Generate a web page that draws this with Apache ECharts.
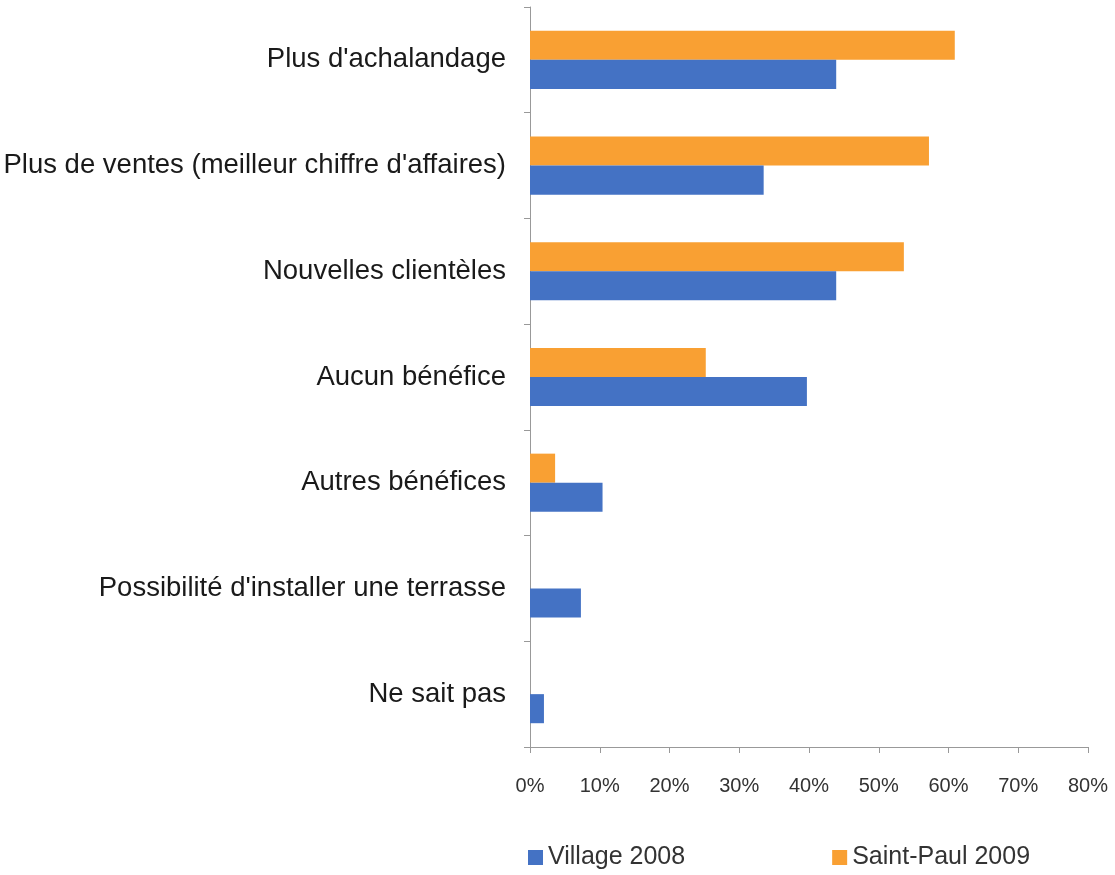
<!DOCTYPE html>
<html>
<head>
<meta charset="utf-8">
<script src="https://cdn.jsdelivr.net/npm/echarts@6/dist/echarts.min.js"></script>
<style>
  html, body { margin: 0; padding: 0; background: #fff; }
  #myChart { width: 1115px; height: 875px; }
</style>
</head>
<body>
<div id="myChart"></div>
<script>
  // categories, top to bottom
  let categories = [
    "Plus d'achalandage",
    "Plus de ventes (meilleur chiffre d'affaires)",
    "Nouvelles clientèles",
    "Aucun bénéfice",
    "Autres bénéfices",
    "Possibilité d'installer une terrasse",
    "Ne sait pas"
  ];
  // values in %
  let village2008 = [43.9, 33.5, 43.9, 39.7, 10.4, 7.3, 2.0];
  let saintPaul2009 = [60.9, 57.2, 53.6, 25.2, 3.6, 0, 0];
  let xTicks = [0, 80, 10]; // min, max, interval

  let myChart = echarts.init(document.getElementById('myChart'));
  let font = 'Liberation Sans, Arial, sans-serif';

  let option = {
    animation: false,
    textStyle: { fontFamily: font },
    legend: {
      left: 528,
      top: 845,
      padding: 0,
      itemWidth: 15,
      itemHeight: 15,
      itemGap: 147,
      icon: 'rect',
      textStyle: { fontSize: 25, color: '#333', fontFamily: font },
      data: ['Village 2008', 'Saint-Paul 2009']
    },
    grid: {
      left: 530,
      right: 27,
      top: 7,
      bottom: 128
    },
    xAxis: {
      type: 'value',
      min: xTicks[0],
      max: xTicks[1],
      interval: xTicks[2],
      axisLine: { show: true, lineStyle: { color: '#999', width: 1 } },
      axisTick: { show: true, length: 6, lineStyle: { color: '#999' } },
      splitLine: { show: false },
      axisLabel: {
        formatter: '{value}%',
        fontSize: 20,
        color: '#333',
        margin: 29,
        fontFamily: font
      }
    },
    yAxis: {
      type: 'category',
      inverse: true,
      data: categories,
      axisLine: { show: true, lineStyle: { color: '#999', width: 1 } },
      axisTick: { show: true, length: 6, interval: 0, lineStyle: { color: '#999' } },
      axisLabel: {
        fontSize: 27.5,
        color: '#1a1a1a',
        margin: 24,
        interval: 0,
        padding: [6, 0, 0, 0],
        fontFamily: font
      }
    },
    series: [
      // orange first so it sits above the blue bar in each group
      {
        name: 'Saint-Paul 2009',
        type: 'bar',
        data: saintPaul2009,
        barGap: '0%',
        barCategoryGap: '45%',
        itemStyle: { color: '#F9A033' }
      },
      {
        name: 'Village 2008',
        type: 'bar',
        data: village2008,
        barGap: '0%',
        barCategoryGap: '45%',
        itemStyle: { color: '#4472C4' }
      }
    ]
  };
  myChart.setOption(option);
</script>
</body>
</html>
